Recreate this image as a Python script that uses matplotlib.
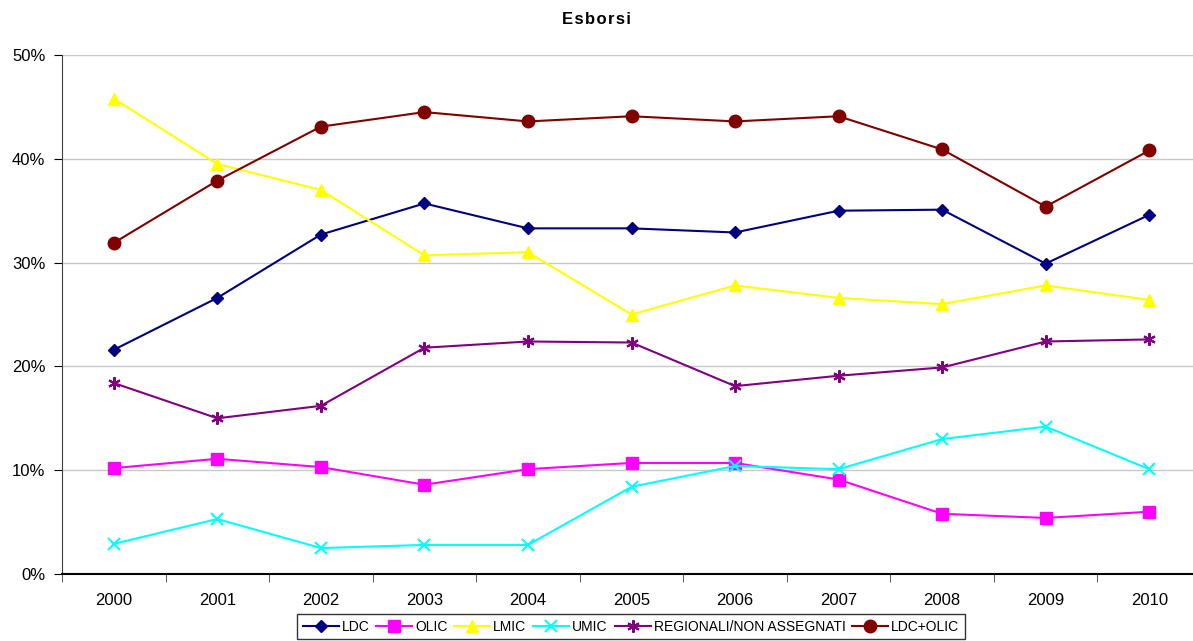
import matplotlib
matplotlib.use('Agg')
import matplotlib.pyplot as plt
from matplotlib.ticker import FuncFormatter, FixedLocator

plt.rcParams['font.family'] = ['Liberation Sans', 'DejaVu Sans']

years = ['2000', '2001', '2002', '2003', '2004', '2005', '2006', '2007', '2008', '2009', '2010']

ldc = [21.6, 26.6, 32.7, 35.7, 33.3, 33.3, 32.9, 35.0, 35.1, 29.9, 34.6]
olic = [10.2, 11.1, 10.3, 8.6, 10.1, 10.7, 10.7, 9.1, 5.8, 5.4, 6.0]
lmic = [45.8, 39.5, 37.0, 30.7, 31.0, 25.0, 27.8, 26.6, 26.0, 27.8, 26.4]
umic = [2.9, 5.3, 2.5, 2.8, 2.8, 8.4, 10.4, 10.1, 13.0, 14.2, 10.1]
regionali = [18.4, 15.0, 16.2, 21.8, 22.4, 22.3, 18.1, 19.1, 19.9, 22.4, 22.6]
ldc_olic = [31.9, 37.9, 43.1, 44.5, 43.6, 44.1, 43.6, 44.1, 40.9, 35.4, 40.8]

series = [
    ('LDC', ldc, '#000080', 'D', 6),
    ('OLIC', olic, '#FF00FF', 's', 9),
    ('LMIC', lmic, '#FFFF00', '^', 8),
    ('UMIC', umic, '#00FFFF', 'x', 9),
    ('REGIONALI/NON ASSEGNATI', regionali, '#800080', (6, 2, 0), 9),
    ('LDC+OLIC', ldc_olic, '#800000', 'o', 9),
]

fig = plt.figure(figsize=(11.93, 6.41), dpi=100)
ax = fig.add_axes([62 / 1193, 1 - 574 / 641, 1139 / 1193, 519 / 641])

x = list(range(len(years)))
for name, vals, col, mk, ms in series:
    ax.plot(x, vals, color=col, marker=mk, markersize=ms, linewidth=1.5,
            markeredgewidth=1.5 if mk in ('x', (6, 2, 0)) else 1,
            markeredgecolor=col, markerfacecolor=col, label=name)

ax.set_xlim(-0.5, 10.5)
ax.set_ylim(0, 50)
ax.set_yticks([0, 10, 20, 30, 40, 50])
ax.yaxis.set_major_formatter(FuncFormatter(lambda v, p: '%d%%' % v))
ax.yaxis.grid(True, color='#c8c8c8', linewidth=1)
ax.set_axisbelow(True)

ax.set_xticks(x)
ax.set_xticklabels(years)
ax.tick_params(axis='x', which='major', length=0, pad=14, labelsize=12)
ax.xaxis.set_minor_locator(FixedLocator([i - 0.5 for i in range(12)]))
ax.tick_params(axis='x', which='minor', length=6, direction='out', color='#404040')
ax.tick_params(axis='y', length=6, direction='out', labelsize=12, pad=6)

for s in ['top', 'right']:
    ax.spines[s].set_visible(False)
ax.spines['left'].set_color('#404040')
ax.spines['bottom'].set_color('black')
ax.spines['bottom'].set_linewidth(1.5)

fig.text(0.5, 1 - 20 / 641, 'E\u200as\u200ab\u200ao\u200ar\u200as\u200ai', ha='center', va='center',
         fontsize=12, fontweight='bold')

leg = fig.legend(loc='upper left', bbox_to_anchor=(297 / 1193, 1 - 614 / 641),
                 ncol=6, frameon=True, fancybox=False, fontsize=10,
                 handlelength=2.6, handletextpad=0.2, columnspacing=0.5,
                 borderpad=0.4, borderaxespad=0)
leg.get_frame().set_edgecolor('black')
leg.get_frame().set_linewidth(1)

fig.savefig('out.png', dpi=100)
